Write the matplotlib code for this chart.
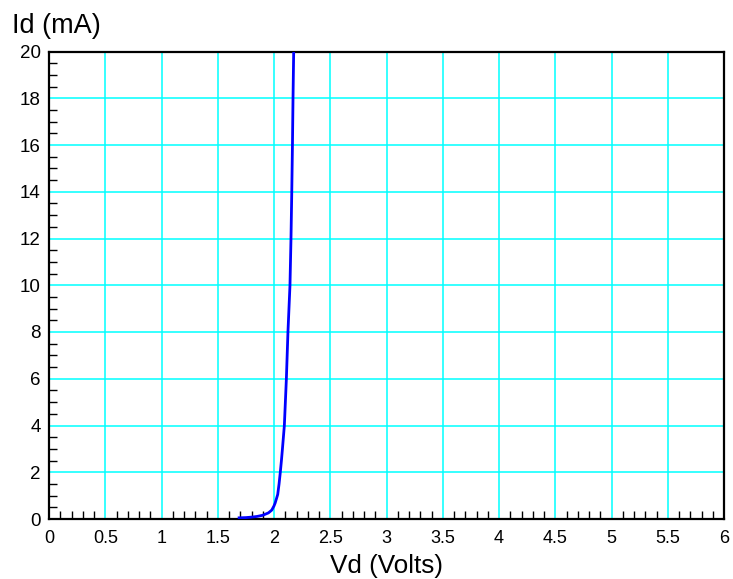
"""
Diode I-V curve (Id vs Vd), redrawn from a reference picture.
Saves out.png (733x579).
"""

import matplotlib
matplotlib.use("Agg")
import matplotlib.pyplot as plt
from matplotlib.ticker import MultipleLocator

# --- data -------------------------------------------------------------------
vd_volts = [1.69, 1.75, 1.80, 1.85, 1.90, 1.95, 1.98, 2.00, 2.01, 2.02, 2.033,
            2.045, 2.056, 2.066, 2.075, 2.092, 2.110, 2.124, 2.142, 2.151,
            2.158, 2.164, 2.169, 2.175]
id_ma = [0.05, 0.06, 0.08, 0.11, 0.16, 0.26, 0.38, 0.56, 0.68, 0.84, 1.05,
         1.5, 2.0, 2.5, 3.0, 4.0, 6.0, 8.0, 10.0, 12.0,
         14.0, 16.0, 18.0, 20.0]

x_ticks = [0, 0.5, 1, 1.5, 2, 2.5, 3, 3.5, 4, 4.5, 5, 5.5, 6]
x_tick_labels = ["0", "0.5", "1", "1.5", "2", "2.5", "3", "3.5",
                 "4", "4.5", "5", "5.5", "6"]
y_ticks = [0, 2, 4, 6, 8, 10, 12, 14, 16, 18, 20]

# --- colours ----------------------------------------------------------------
GRID = "#00FFFF"
CURVE = "#0000FF"

plt.rcParams["font.family"] = ["Liberation Sans", "DejaVu Sans"]

fig = plt.figure(figsize=(7.33, 5.79), dpi=100)
ax = fig.add_axes([49 / 733, 1 - 519 / 579, (724 - 49) / 733, (519 - 51.5) / 579])

ax.plot(vd_volts, id_ma, color=CURVE, linewidth=2.0, zorder=5)

ax.set_xlim(0, 6)
ax.set_ylim(0, 20)
ax.set_xticks(x_ticks)
ax.set_xticklabels(x_tick_labels)
ax.set_yticks(y_ticks)
ax.xaxis.set_minor_locator(MultipleLocator(0.1))
ax.yaxis.set_minor_locator(MultipleLocator(0.5))

ax.grid(True, which="major", color=GRID, linewidth=1.1, zorder=1)
ax.set_axisbelow(True)

ax.tick_params(which="major", length=0)
ax.tick_params(axis="x", which="major", labelsize=13, pad=8)
ax.tick_params(axis="y", which="major", labelsize=13.5, pad=6)
ax.tick_params(which="minor", direction="in", length=6, width=1.0,
               color="black", top=False, right=False)

for spine in ax.spines.values():
    spine.set_linewidth(1.6)
    spine.set_color("black")
    spine.set_zorder(4)

ax.set_xlabel("Vd (Volts)", fontsize=18.8, labelpad=5)
fig.text(12 / 733, 1 - 33 / 579, "Id (mA)", fontsize=19.5, ha="left", va="baseline")

fig.savefig("out.png", dpi=100)
plt.close(fig)
